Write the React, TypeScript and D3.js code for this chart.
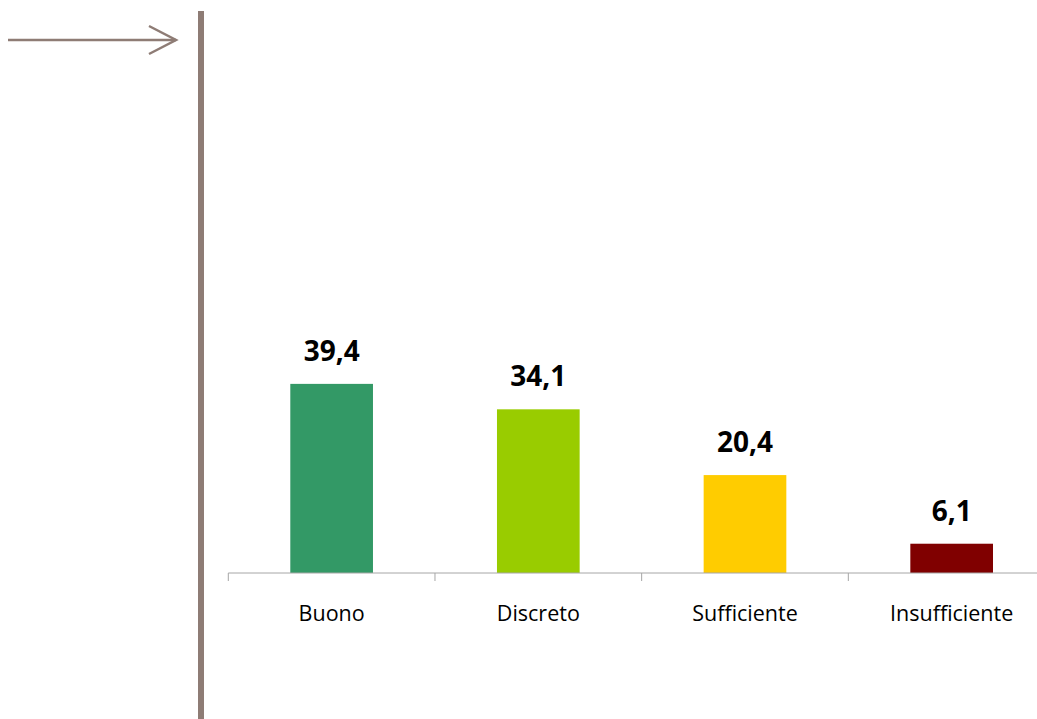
import React from "react";
import * as d3 from "d3";

const categories = ["Buono", "Discreto", "Sufficiente", "Insufficiente"];
const values = [39.4, 34.1, 20.4, 6.1];
const valueLabels = ["39,4", "34,1", "20,4", "6,1"];
const colors = ["#339966", "#99CC00", "#FFCC00", "#800000"];

const W = 1037;
const H = 719;
const baseY = 573;
const x0 = 228.3;
const x1 = 1055;

export default function App() {
  const x = d3.scaleBand<string>().domain(categories).range([x0, x1]).paddingInner(0.6).paddingOuter(0.3);
  const y = d3.scaleLinear().domain([0, 100]).range([baseY, 93]);
  const step = x.step();
  const tickXs = categories.map((_, i) => x0 + i * step);
  const brown = "#8E7C75";
  const font = "'Open Sans', 'Noto Sans', sans-serif";
  return (
    <svg width={W} height={H} style={{ position: "absolute", left: 0, top: 0 }}>
      <rect width={W} height={H} fill="#fff" />
      {/* arrow */}
      <line x1={8} y1={40} x2={176} y2={40} stroke={brown} strokeWidth={2.5} />
      <polyline points="149,26 176,40 149,54" fill="none" stroke={brown} strokeWidth={2.5} />
      {/* vertical bar */}
      <rect x={198} y={11} width={6} height={708} fill={brown} />
      {/* bars */}
      {categories.map((c, i) => (
        <rect key={c} x={x(c)} y={y(values[i])} width={x.bandwidth()} height={baseY - y(values[i])} fill={colors[i]} />
      ))}
      {/* axis */}
      <line x1={x0} y1={baseY} x2={W} y2={baseY} stroke="#A6A6A6" strokeWidth={1} />
      {tickXs.map((t, i) => (
        <line key={i} x1={t} y1={baseY} x2={t} y2={baseY + 8} stroke="#A6A6A6" strokeWidth={1} />
      ))}
      {categories.map((c, i) => (
        <text key={c} x={(x(c) as number) + x.bandwidth() / 2} y={620.5} textAnchor="middle" fontFamily={font} fontSize={21.5} fill="#000">
          {c}
        </text>
      ))}
      {categories.map((c, i) => (
        <text key={"v" + c} x={(x(c) as number) + x.bandwidth() / 2} y={y(values[i]) - 23} textAnchor="middle" fontFamily={font} fontWeight="bold" fontSize={28} fill="#000">
          {valueLabels[i]}
        </text>
      ))}
    </svg>
  );
}
